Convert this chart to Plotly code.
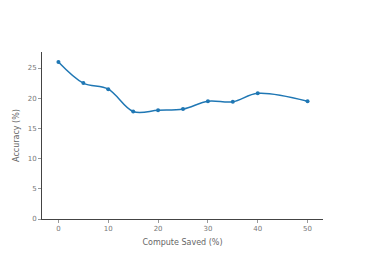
import plotly.graph_objects as go

compute_saved = [0, 5, 10, 15, 20, 25, 30, 35, 40, 50]
accuracy = [26.0, 22.5, 21.5, 17.8, 18.0, 18.2, 19.5, 19.4, 20.8, 19.5]

fig = go.Figure(go.Scatter(
    x=compute_saved, y=accuracy, mode="lines+markers",
    line=dict(shape="spline", color="#1f77b4", width=1.5),
    marker=dict(size=4, color="#1f77b4"),
))
axis_common = dict(showgrid=False, zeroline=False, showline=True, linecolor="#444", linewidth=1,
                   ticks="outside", ticklen=3, tickcolor="#999", tickfont=dict(size=7, color="#777"),
                   title_font=dict(size=8, color="#666"), automargin=False)
fig.update_layout(
    width=366, height=261,
    margin=dict(l=42, r=43, t=52, b=42),
    plot_bgcolor="white", paper_bgcolor="white",
    font=dict(family="DejaVu Sans, sans-serif"),
    showlegend=False,
    xaxis=dict(range=[-3.3, 53.1], tickvals=[0, 10, 20, 30, 40, 50], title=dict(text="Compute Saved (%)", standoff=6), **axis_common),
    yaxis=dict(range=[0, 27.65], tickvals=[0, 5, 10, 15, 20, 25], title=dict(text="Accuracy (%)", standoff=6), **axis_common),
)
fig.write_html("out.html", config={"displayModeBar": False},
               post_script="document.body.style.margin='0';document.body.style.overflow='hidden';")
